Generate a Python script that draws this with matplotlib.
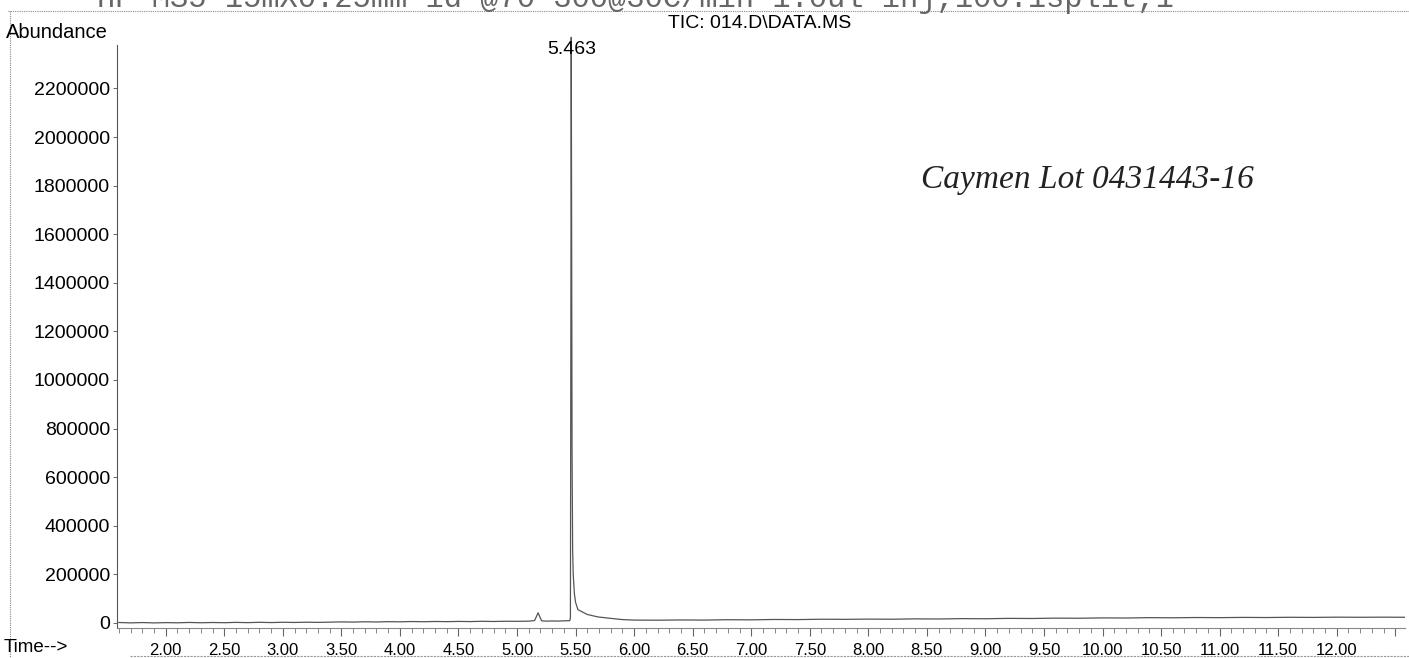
import matplotlib
matplotlib.use("Agg")
import matplotlib.pyplot as plt
from matplotlib.lines import Line2D
from matplotlib.ticker import MultipleLocator, FuncFormatter

# ---------------- data ----------------
time_min = [
    1.60, 1.70, 1.80, 1.90, 2.00, 2.10, 2.20, 2.30, 2.40, 2.50,
    2.60, 2.70, 2.80, 2.90, 3.00, 3.10, 3.20, 3.30, 3.40, 3.50,
    3.60, 3.70, 3.80, 3.90, 4.00, 4.10, 4.20, 4.30, 4.40, 4.50,
    4.60, 4.70, 4.80, 4.90, 5.00, 5.10, 5.15, 5.18, 5.21, 5.25,
    5.30, 5.35, 5.40, 5.45, 5.456, 5.461, 5.463, 5.466, 5.470, 5.475,
    5.48, 5.49, 5.50, 5.52, 5.56, 5.60, 5.69, 5.80, 5.90, 6.00,
    6.20, 6.40, 6.60, 6.80, 7.00, 7.20, 7.40, 7.60, 7.80, 8.00,
    8.20, 8.40, 8.60, 8.80, 9.00, 9.20, 9.40, 9.60, 9.80, 10.00,
    10.20, 10.40, 10.60, 10.80, 11.00, 11.20, 11.40, 11.60, 11.80, 12.00,
    12.20, 12.40, 12.58,
]
abundance = [
    2000, 500, 1800, 400, 1500, 800, 2200, 1000, 2000, 1200,
    2500, 1500, 2800, 1800, 3000, 2200, 3200, 2500, 3500, 4500,
    3800, 5000, 4200, 5500, 4800, 6000, 5200, 6200, 5500, 6500,
    5800, 7000, 6200, 7200, 6800, 7500, 10000, 42000, 9000, 7500,
    8500, 7800, 9000, 9500, 20000, 1600000, 2410000, 1700000, 700000, 300000,
    200000, 120000, 85000, 55000, 45000, 35000, 25000, 19000, 14000, 12000,
    11500, 12500, 12000, 13500, 13000, 14500, 14000, 15500, 15000, 16000,
    15500, 17000, 16500, 18000, 17500, 19000, 18500, 20000, 19500, 21000,
    20500, 22000, 21500, 22500, 22000, 23000, 22500, 23500, 23000, 24000,
    23500, 24000, 23500,
]
peak_label = "5.463"
peak_time = 5.463
x_major_ticks = [2.00, 2.50, 3.00, 3.50, 4.00, 4.50, 5.00, 5.50, 6.00, 6.50, 7.00,
                 7.50, 8.00, 8.50, 9.00, 9.50, 10.00, 10.50, 11.00, 11.50, 12.00, 12.50]
x_labelled_max = 12.00
y_ticks = [0, 200000, 400000, 600000, 800000, 1000000, 1200000, 1400000,
           1600000, 1800000, 2000000, 2200000]
header_text = "HP-MS5 15mX0.25mm id @70-300@30C/min 1.0ul inj,100:1split,1"
title_text = "TIC: 014.D\\DATA.MS"
note_text = "Caymen Lot 0431443-16"

# ---------------- figure ----------------
W, H = 1409, 658
fig = plt.figure(figsize=(W / 100, H / 100), dpi=100)
plt.rcParams['font.family'] = ['Liberation Sans', 'DejaVu Sans']

def fx(px):
    return px / W

def fy(py):
    return 1 - py / H

ax_left, ax_right, ax_top, ax_bot = 117, 1405, 33, 628
ax = fig.add_axes([fx(ax_left), fy(ax_bot), fx(ax_right - ax_left), (ax_bot - ax_top) / H])

ax.plot(time_min, abundance, color='#555555', lw=0.9)

ax.set_xlim(1.584, 12.583)
ax.set_ylim(-20600, 2428000)

for s in ['top', 'right']:
    ax.spines[s].set_visible(False)
ax.spines['left'].set_color('#555555')
ax.spines['left'].set_linestyle((0, (1, 1)))
ax.spines['left'].set_linewidth(0.8)
ax.spines['left'].set_bounds(-20600, 2380000)
ax.spines['bottom'].set_color('#888888')
ax.spines['bottom'].set_linewidth(0.8)

ax.set_xticks(x_major_ticks)
ax.xaxis.set_minor_locator(MultipleLocator(0.1))
ax.xaxis.set_major_formatter(FuncFormatter(lambda v, p: f"{v:.2f}" if v <= x_labelled_max + 1e-6 else ""))
ax.tick_params(axis='x', which='major', direction='out', length=6, width=0.8, color='#666666',
               labelsize=12, pad=5)
ax.tick_params(axis='x', which='minor', direction='out', length=3.5, width=0.7, color='#888888')

ax.set_yticks(y_ticks)
ax.yaxis.set_major_formatter(FuncFormatter(lambda v, p: f"{int(v)}"))
ax.tick_params(axis='y', direction='out', length=3, width=0.7, color='#666666',
               labelsize=14, pad=2)

ax.annotate(peak_label, xy=(peak_time, max(abundance)), xytext=(0, -9), textcoords='offset points',
            ha='center', va='center', fontsize=14)

# texts around the plot
fig.text(fx(6), fy(32), "Abundance", ha='left', va='center', fontsize=14.5)
fig.text(fx(760), fy(23), title_text, ha='center', va='center', fontsize=14)
fig.text(fx(4), fy(648), "Time-->", ha='left', va='center', fontsize=13.5)
fig.text(fx(97), fy(7), header_text, ha='left', va='baseline', fontsize=22,
         family='Liberation Mono', color='#666666')

ax.text(8.45, 1790000, note_text, ha='left', va='baseline', fontsize=24,
        family='Liberation Serif', style='italic', color='#222222')

# outer dotted frame of the printout
fig.add_artist(Line2D([fx(8), fx(1409)], [fy(11), fy(11)], color='#888888', lw=0.8, ls=(0, (1, 1))))
fig.add_artist(Line2D([fx(10), fx(10)], [fy(11), fy(658)], color='#888888', lw=0.8, ls=(0, (1, 1))))
fig.add_artist(Line2D([fx(130), fx(1409)], [fy(656), fy(656)], color='#999999', lw=0.8, ls=(0, (2, 1))))

fig.savefig("out.png", dpi=100)
